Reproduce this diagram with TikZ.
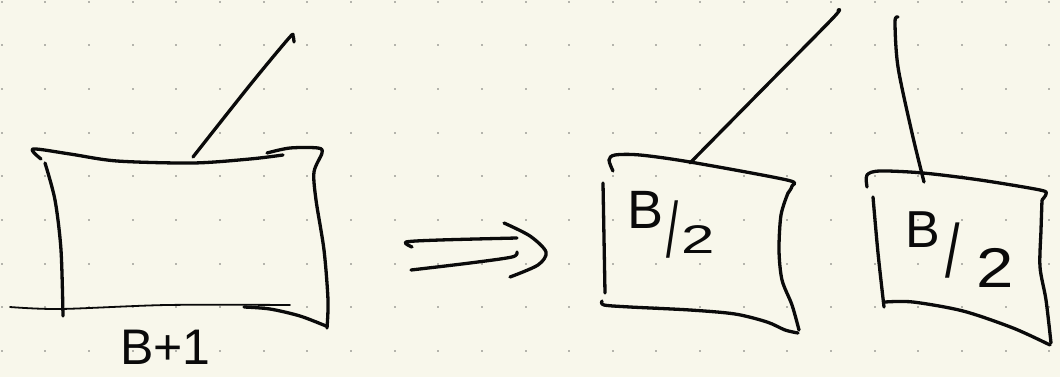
\documentclass[tikz,border=0pt]{standalone}
\usepackage{graphicx}
\usepackage{fontspec}
\setmainfont{Liberation Sans}
\definecolor{paper}{HTML}{F8F7EB}
\definecolor{dotc}{HTML}{B4B4AC}
\definecolor{ink}{HTML}{0A0A0A}
\tikzset{
  pen/.style={draw=ink, line width=3.3pt, line cap=round, line join=round},
  thinpen/.style={pen, line width=1.8pt},
  hand/.style={text=ink, inner sep=0pt, anchor=base west}
}
\begin{document}
\begin{tikzpicture}[x=1pt,y=-1pt]
\fill[paper] (0,0) rectangle (1060,377);
\useasboundingbox (0,0) rectangle (1060,377);
\foreach \i in {0,...,24} \foreach \j in {0,...,8}
  \fill[dotc] ({0.7+43.65*\i},{0.7+43.65*\j}) rectangle +(2,2);

% left box
\draw[pen] plot[smooth] coordinates {(41,159) (33,149) (70,154) (117,161) (193,163) (250,159) (283,155)};
\draw[pen] plot[smooth] coordinates {(267,153) (290,148) (318,148) (322,153) (314,172) (316,200) (324,250) (328,300) (327,328)};
\draw[pen] plot[smooth] coordinates {(326,326) (300,316) (270,309) (244,307)};
\draw[pen] plot[smooth] coordinates {(45,163) (55,200) (61,250) (63,316)};
\draw[thinpen] plot[smooth] coordinates {(10,307) (60,309) (167,305) (290,305)};
\draw[pen] plot[smooth] coordinates {(193,157) (250,85) (289,38) (293,36) (294,42)};
\node[hand, font=\fontsize{50}{50}\selectfont] (lbl1) at (120,364) {B+1};

% implies arrow
\draw[pen] plot[smooth] coordinates {(412,247) (406,242) (440,240) (517,238)};
\draw[pen] plot[smooth] coordinates {(411,270) (470,263) (512,257) (517,252)};
\draw[pen] plot[smooth] coordinates {(504,223) (530,236) (546,252) (538,265) (510,277)};

% middle box
\draw[pen] plot[smooth] coordinates {(613,171) (609,160) (615,155) (640,155) (690,162) (787,180) (792,186) (788,193)};
\draw[pen] plot[smooth] coordinates {(788,193) (781,215) (779,250) (782,280) (792,305) (799,330)};
\draw[pen] plot[smooth] coordinates {(798,333) (785,330) (767,322) (735,314) (690,310) (630,307) (604,305) (602,301)};
\draw[pen] (603,183) -- (605,293);
\draw[pen] plot[smooth] coordinates {(690,163) (760,92) (833,18) (838,10)};
\node[hand] (lbl2) at (627,253) {\fontsize{54}{54}\selectfont\raisebox{25pt}{B}\kern3pt\raisebox{-4pt}{\scalebox{0.8}[1.45]{/}}\kern3pt\fontsize{40}{40}\selectfont\scalebox{1.5}[1]{2}};

% right box
\draw[pen] plot[smooth] coordinates {(867,187) (867,175) (880,171) (923,173) (980,180) (1040,190) (1046,194) (1042,200)};
\draw[pen] plot[smooth] coordinates {(1042,200) (1041,230) (1040,267) (1046,300) (1051,343)};
\draw[pen] plot[smooth] coordinates {(1050,345) (1013,328) (963,311) (913,302) (885,302)};
\draw[pen] plot[smooth] coordinates {(873,197) (878,253) (884,307)};
\draw[pen] plot[smooth] coordinates {(898,17) (895,22) (898,67) (912,133) (924,182)};
\node[hand] (lbl3) at (905,287) {\fontsize{52}{52}\selectfont\raisebox{40pt}{B}\kern6pt\raisebox{10pt}{\scalebox{1}[1.45]{/}}\kern16pt\fontsize{56}{56}\selectfont\scalebox{1.2}[1]{2}};
\end{tikzpicture}
\end{document}
